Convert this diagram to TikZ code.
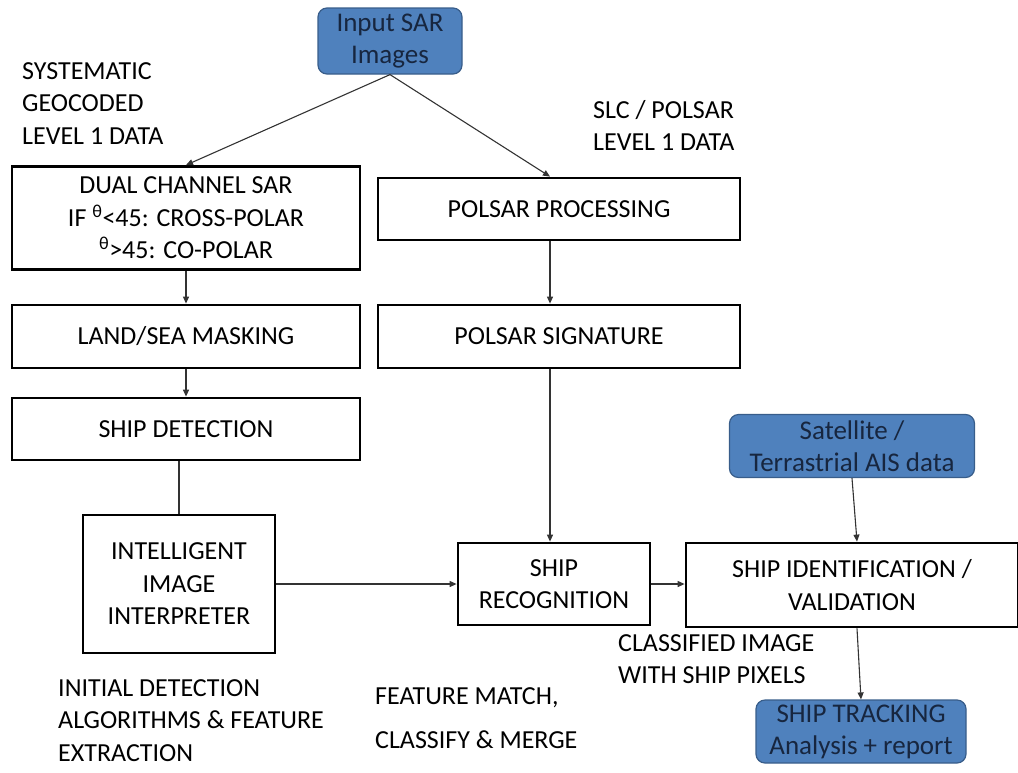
\documentclass[tikz,border=0pt]{standalone}
\usepackage{fontspec}
\setmainfont{Carlito}
\usetikzlibrary{arrows.meta}
\definecolor{sarblue}{HTML}{4F81BD}
\definecolor{sarborder}{HTML}{385D8A}
\definecolor{sartext}{HTML}{17263F}
\begin{document}
\begin{tikzpicture}[
    x=1pt, y=-1pt,
    box/.style={rectangle, draw=black, line width=2.8pt, align=center, font=\fontsize{26}{32.5}\selectfont},
    source/.style={rectangle, draw=sarborder, fill=sarblue, line width=1.2pt, rounded corners=9pt, align=center, inner sep=1pt, text=sartext, font=\fontsize{27}{32}\selectfont},
    note/.style={anchor=north west, align=left, inner sep=0pt, font=\fontsize{26}{32.5}\selectfont},
    arrow/.style={-{Triangle[length=7pt,width=6pt]}, line width=1.1pt, black!80},
    link/.style={line width=1.1pt, black!80}
]
\useasboundingbox (0,0) rectangle (1018,772);

% Inputs
\node[source, minimum width=144pt, minimum height=66pt] (input) at (390,41) {Input SAR\\Images};
\node[source, minimum width=245pt, minimum height=63pt] (ais) at (852,446) {Satellite /\\Terrastrial AIS data};

% Data labels
\node[note] (geocoded) at (22,62) {SYSTEMATIC\\GEOCODED\\LEVEL 1 DATA};
\node[note] (slcdata) at (593,100) {SLC / POLSAR\\LEVEL 1 DATA};

% Left branch
\node[box, minimum width=348pt, minimum height=103pt] (dual) at (186,218) {DUAL CHANNEL SAR\\IF \textsuperscript{θ}<45: CROSS-POLAR\\\textsuperscript{θ}>45: CO-POLAR};
\node[box, minimum width=348pt, minimum height=63pt] (mask) at (186,336.5) {LAND/SEA MASKING};
\node[box, minimum width=348pt, minimum height=62pt] (detect) at (186,429) {SHIP DETECTION};
\node[box, minimum width=192pt, minimum height=138pt] (interp) at (179,584) {INTELLIGENT\\IMAGE\\INTERPRETER};

% Right branch
\node[box, minimum width=362pt, minimum height=62pt] (polproc) at (559,209) {POLSAR PROCESSING};
\node[box, minimum width=362pt, minimum height=63pt] (polsig) at (559,336.5) {POLSAR SIGNATURE};

% Recognition and output
\node[box, minimum width=192pt, minimum height=82pt] (recog) at (554,584) {SHIP\\RECOGNITION};
\node[box, minimum width=332pt, minimum height=84pt] (ident) at (852,585) {SHIP IDENTIFICATION /\\VALIDATION};
\node[source, minimum width=210pt, minimum height=63pt] (track) at (861,731.5) {SHIP TRACKING\\Analysis + report};

% Step labels
\node[note] (classified) at (618,634) {CLASSIFIED IMAGE\\WITH SHIP PIXELS};
\node[note] (initial) at (58,679) {INITIAL DETECTION\\ALGORITHMS \& FEATURE\\EXTRACTION};
\node[note] (featmatch) at (375,687) {FEATURE MATCH,\\[12pt]CLASSIFY \& MERGE};

% Arrows
\draw[arrow] (input.south) -- (dual.north);
\draw[arrow] (input.south) -- (polproc.north -| 550,0);
\draw[arrow] (dual) -- (mask);
\draw[arrow] (mask) -- (detect);
\draw[link] (detect.south -| interp.north) -- (interp.north);
\draw[arrow] (polproc.south -| 550,0) -- (polsig.north -| 550,0);
\draw[arrow] (polsig.south -| 550,0) -- (recog.north -| 550,0);
\draw[arrow] (interp) -- (interp -| recog.west);
\draw[arrow] (recog) -- (recog -| ident.west);
\draw[arrow] (ais.south) -- (ident.north -| 857,0);
\draw[arrow] (ident.south -| 857,0) -- (track.north);

\end{tikzpicture}
\end{document}
